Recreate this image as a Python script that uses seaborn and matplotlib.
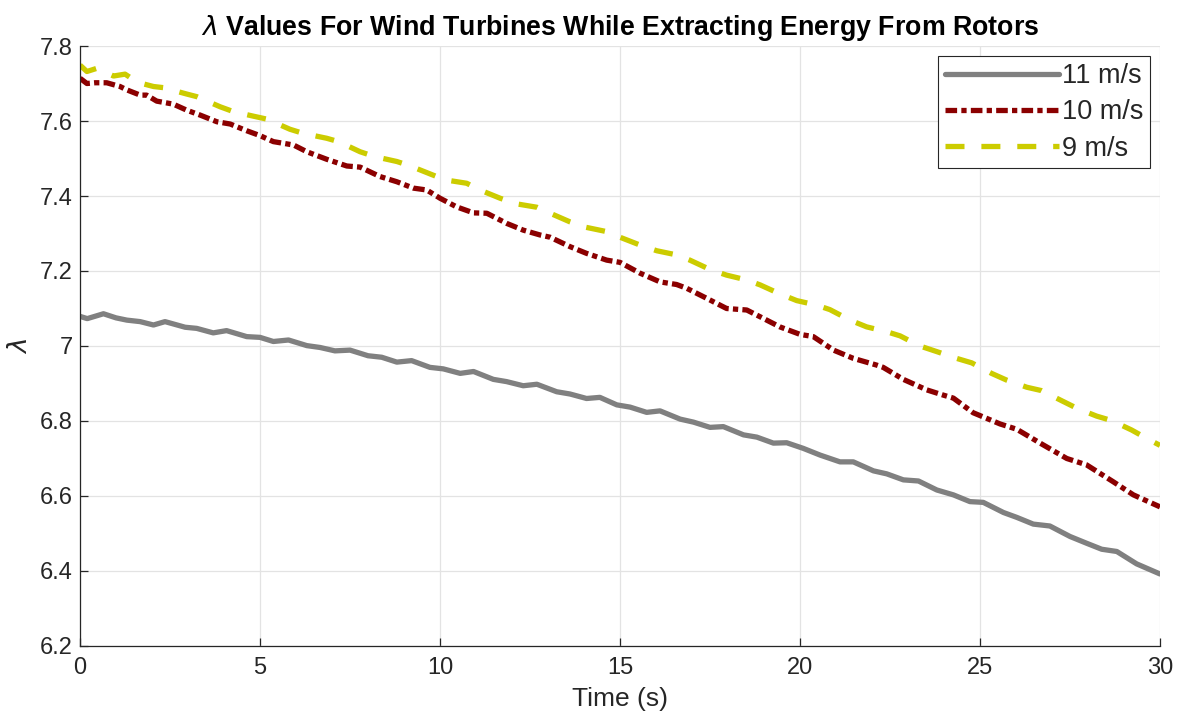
import matplotlib
matplotlib.use("Agg")
import matplotlib.pyplot as plt
import seaborn as sns
import pandas as pd

# values
t_11 = [0, 0.2, 0.65, 1.0, 1.3, 1.67, 2.04, 2.36, 2.92, 3.24, 3.7, 4.07, 4.63, 5.0, 5.37,
        5.79, 6.3, 6.67, 7.08, 7.5, 8.0, 8.38, 8.8, 9.21, 9.72, 10.09, 10.56, 10.93, 11.48, 11.85,
        12.31, 12.69, 13.24, 13.61, 14.07, 14.44, 14.91, 15.28, 15.74, 16.11, 16.67, 17.04, 17.5,
        17.87, 18.43, 18.8, 19.26, 19.63, 20.09, 20.56, 21.11, 21.48, 22.04, 22.41, 22.87, 23.29,
        23.8, 24.26, 24.72, 25.09, 25.65, 26.02, 26.48, 26.94, 27.5, 27.96, 28.38, 28.8, 29.35, 30.0]
lam_11 = [7.079, 7.073, 7.086, 7.075, 7.069, 7.065, 7.056, 7.065, 7.05, 7.047, 7.035, 7.041,
          7.025, 7.023, 7.012, 7.016, 7.001, 6.996, 6.987, 6.989, 6.974, 6.970, 6.957, 6.961,
          6.943, 6.939, 6.927, 6.932, 6.911, 6.905, 6.894, 6.898, 6.878, 6.872, 6.860, 6.863,
          6.843, 6.837, 6.823, 6.827, 6.805, 6.797, 6.783, 6.785, 6.763, 6.757, 6.741, 6.742,
          6.727, 6.709, 6.691, 6.691, 6.667, 6.659, 6.643, 6.640, 6.616, 6.603, 6.585, 6.583,
          6.556, 6.543, 6.525, 6.520, 6.492, 6.474, 6.458, 6.452, 6.419, 6.392]

t_10 = [0, 0.19, 0.42, 0.74, 1.11, 1.3, 1.67, 1.85, 2.13, 2.59, 2.96, 3.33, 3.8, 4.17, 4.63,
        5.0, 5.37, 5.93, 6.3, 6.85, 7.41, 7.78, 8.33, 8.8, 9.26, 9.63, 10.0, 10.46, 10.93, 11.3,
        11.85, 12.31, 12.78, 13.06, 13.61, 14.07, 14.63, 15.0, 15.56, 16.11, 16.57, 16.85, 17.41,
        17.96, 18.52, 18.89, 19.44, 20.0, 20.37, 20.93, 21.48, 22.13, 22.31, 22.87, 23.52, 23.98,
        24.26, 24.81, 25.56, 26.02, 26.67, 27.41, 27.96, 28.7, 29.26, 30.0]
lam_10 = [7.714, 7.70, 7.702, 7.702, 7.692, 7.683, 7.669, 7.669, 7.653, 7.645, 7.629, 7.616,
          7.598, 7.592, 7.574, 7.561, 7.545, 7.536, 7.518, 7.498, 7.48, 7.477, 7.452, 7.438,
          7.421, 7.416, 7.394, 7.371, 7.355, 7.354, 7.327, 7.309, 7.296, 7.290, 7.265, 7.247,
          7.229, 7.223, 7.194, 7.171, 7.164, 7.154, 7.127, 7.10, 7.096, 7.078, 7.051, 7.031,
          7.025, 6.989, 6.967, 6.949, 6.943, 6.911, 6.883, 6.869, 6.861, 6.822, 6.792, 6.778,
          6.741, 6.70, 6.683, 6.638, 6.603, 6.571]

t_9 = [0, 0.19, 0.45, 0.93, 1.25, 1.6, 2.04, 2.31, 2.96, 3.24, 3.89, 4.26, 4.81, 5.19, 5.83,
       6.2, 6.85, 7.18, 7.78, 8.19, 8.8, 9.12, 9.72, 10.14, 10.74, 11.11, 11.67, 12.13, 12.69,
       13.06, 13.61, 14.03, 14.63, 15.0, 15.56, 16.02, 16.57, 16.94, 17.5, 17.96, 18.52, 18.89,
       19.44, 19.91, 20.46, 20.83, 21.39, 21.85, 22.41, 22.78, 23.33, 23.8, 24.35, 24.77, 25.32,
       25.74, 26.3, 26.71, 27.27, 27.69, 28.24, 28.66, 29.21, 29.68, 30.0]
lam_9 = [7.749, 7.732, 7.74, 7.72, 7.725, 7.703, 7.692, 7.689, 7.672, 7.665, 7.638, 7.625,
         7.613, 7.605, 7.578, 7.567, 7.554, 7.545, 7.518, 7.505, 7.492, 7.482, 7.459, 7.443,
         7.434, 7.416, 7.394, 7.379, 7.37, 7.354, 7.331, 7.317, 7.305, 7.29, 7.269, 7.254,
         7.243, 7.229, 7.204, 7.189, 7.176, 7.163, 7.139, 7.121, 7.109, 7.097, 7.069, 7.051,
         7.038, 7.027, 7.0, 6.985, 6.967, 6.955, 6.927, 6.909, 6.89, 6.881, 6.854, 6.834,
         6.813, 6.801, 6.776, 6.751, 6.735]

sns.set_style("whitegrid")
plt.rcParams['font.family'] = ['Liberation Sans', 'DejaVu Sans']
plt.rcParams['mathtext.fontset'] = 'dejavusans'

fig = plt.figure(figsize=(11.79, 7.2), dpi=100)
ax = fig.add_axes([0.0679, 0.1028, 0.916, 0.8333])

series = [
    ("11 m/s", t_11, lam_11, "#808080", "-", None),
    ("10 m/s", t_10, lam_10, "#8b0000", "--", (2.2, 0.8, 1.0, 0.8)),
    ("9 m/s", t_9, lam_9, "#cccc00", "--", (3.6, 3.2)),
]
for name, t, lam, color, ls, dashes in series:
    df = pd.DataFrame({"Time": t, "lam": lam})
    sns.lineplot(data=df, x="Time", y="lam", ax=ax, color=color, linewidth=3.8,
                 linestyle=ls, label=name, estimator=None, sort=False)
    if dashes is not None:
        ax.lines[-1].set_dashes(dashes)

ax.set_xlim(0, 30)
ax.set_ylim(6.2, 7.8)
ax.set_xticks(range(0, 31, 5))
ax.set_yticks([6.2, 6.4, 6.6, 6.8, 7.0, 7.2, 7.4, 7.6, 7.8])
ax.yaxis.set_major_formatter(matplotlib.ticker.FormatStrFormatter('%g'))
ax.grid(True, color="#e3e3e3", linewidth=0.9)
for side in ["top", "right"]:
    ax.spines[side].set_visible(False)
for side in ["left", "bottom"]:
    ax.spines[side].set_color("#262626")
    ax.spines[side].set_linewidth(0.9)
ax.tick_params(axis="both", direction="in", length=6, width=0.9, colors="#262626",
               labelsize=17, left=True, bottom=True)
ax.tick_params(axis="x", pad=8)
ax.tick_params(axis="y", pad=5)

ax.set_xlabel("Time (s)", fontsize=19, color="#262626", labelpad=6)
ax.set_ylabel(r"$\lambda$", fontsize=19, color="#262626", labelpad=6)
ax.set_title(r"$\lambda$ Values For Wind Turbines While Extracting Energy From Rotors",
             fontsize=19.3, fontweight="bold", color="black", pad=8)

leg = ax.legend(loc="upper right", fontsize=19.5, handlelength=4.2, handletextpad=0.1,
                borderpad=0.25, borderaxespad=0.38, labelspacing=0.38, fancybox=False,
                framealpha=1, edgecolor="#262626")
leg.get_frame().set_linewidth(0.8)

fig.savefig("out.png", dpi=100)
